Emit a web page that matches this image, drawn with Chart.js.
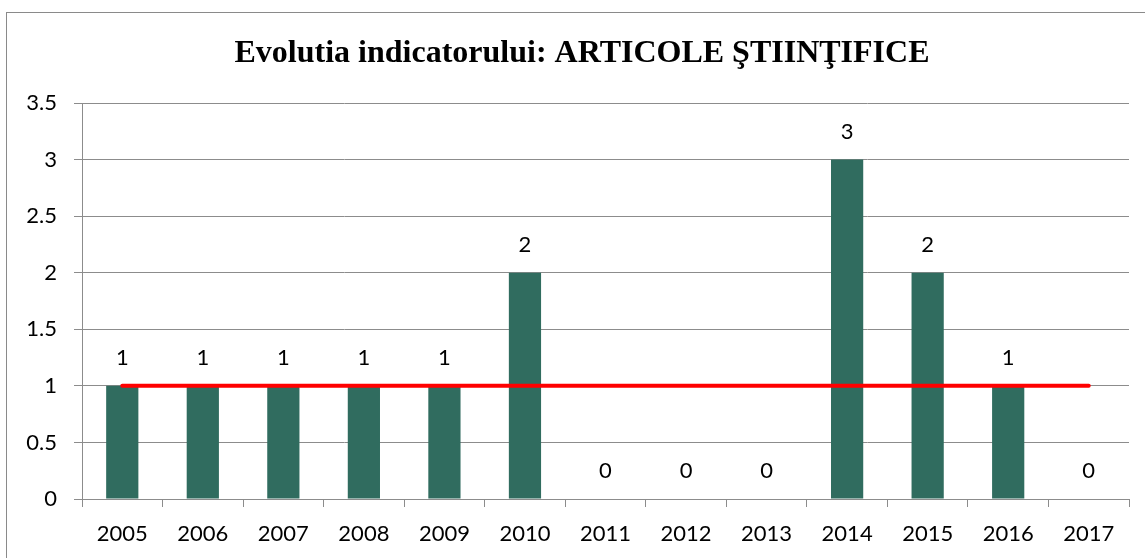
<!DOCTYPE html>
<html>
<head>
<meta charset="utf-8">
<script src="https://cdn.jsdelivr.net/npm/chart.js@4"></script>
<style>
  html, body { margin: 0; padding: 0; background: #fff; }
  #wrap { width: 1145px; height: 558px; }
</style>
</head>
<body>
<div id="wrap"><canvas id="chart" width="1145" height="558"></canvas></div>
<script>
var years = ['2005', '2006', '2007', '2008', '2009', '2010', '2011', '2012', '2013', '2014', '2015', '2016', '2017'];
var articole = [1, 1, 1, 1, 1, 2, 0, 0, 0, 3, 2, 1, 0];
var media = [1, 1, 1, 1, 1, 1, 1, 1, 1, 1, 1, 1, 1];
var yTicks = [0, 0.5, 1, 1.5, 2, 2.5, 3, 3.5];
var chartTitle = 'Evolutia indicatorului: ARTICOLE ŞTIINŢIFICE';

var tickFont = { family: 'Lato', size: 22 };

// outer frame of the chart, cut off at right and bottom like the original,
// and the title, centred on that frame rather than on the plot
var frame = {
    id: 'frame',
    beforeDraw: function (chart) {
        var c = chart.ctx;
        c.save();
        c.fillStyle = '#fff';
        c.fillRect(0, 0, chart.width, chart.height);
        c.strokeStyle = '#8a8a8a';
        c.lineWidth = 1;
        c.strokeRect(6.5, 12.5, 1300, 700);
        c.font = 'bold 32px "Liberation Serif"';
        c.fillStyle = '#000';
        c.textAlign = 'center';
        c.textBaseline = 'alphabetic';
        c.fillText(chartTitle, 582, 62);
        c.restore();
    }
};

// value labels above the bars
var barLabels = {
    id: 'barLabels',
    afterDatasetsDraw: function (chart) {
        var c = chart.ctx;
        var meta = chart.getDatasetMeta(1);
        c.save();
        c.font = '22px Lato';
        c.fillStyle = '#000';
        c.textAlign = 'center';
        c.textBaseline = 'middle';
        meta.data.forEach(function (bar, i) {
            c.fillText(String(articole[i]), bar.x, bar.y - 28);
        });
        c.restore();
    }
};

var ctx = document.getElementById('chart');
var myChart = new Chart(ctx, {
    type: 'bar',
    data: {
        labels: years,
        datasets: [{
            type: 'line',
            data: media,
            borderColor: '#ff0000',
            borderWidth: 4,
            borderCapStyle: 'round',
            pointRadius: 0,
            fill: false,
            order: 0
        }, {
            type: 'bar',
            data: articole,
            backgroundColor: '#306c5f',
            categoryPercentage: 1,
            barPercentage: 0.4,
            order: 1
        }]
    },
    options: {
        responsive: false,
        animation: false,
        layout: { padding: { left: 0, right: 16, top: 103, bottom: 0 } },
        plugins: {
            legend: { display: false },
            tooltip: { enabled: false },
            title: { display: false }
        },
        scales: {
            x: {
                offset: true,
                grid: { offset: true, drawOnChartArea: false, drawTicks: true, tickLength: 8, color: '#8c8c8c' },
                border: { color: '#8c8c8c' },
                ticks: { color: '#000', font: tickFont, padding: 14, maxRotation: 0 },
                afterFit: function (s) { s.height = 59; }
            },
            y: {
                min: 0,
                max: 3.5,
                afterBuildTicks: function (s) {
                    s.ticks = yTicks.map(function (v) { return { value: v }; });
                },
                grid: { color: '#8c8c8c', tickLength: 8 },
                border: { color: '#8c8c8c' },
                ticks: {
                    color: '#000',
                    font: tickFont,
                    padding: 17,
                    callback: function (v) { return String(v); }
                },
                afterFit: function (s) { s.width = 82; }
            }
        }
    },
    plugins: [frame, barLabels]
});
</script>
</body>
</html>
